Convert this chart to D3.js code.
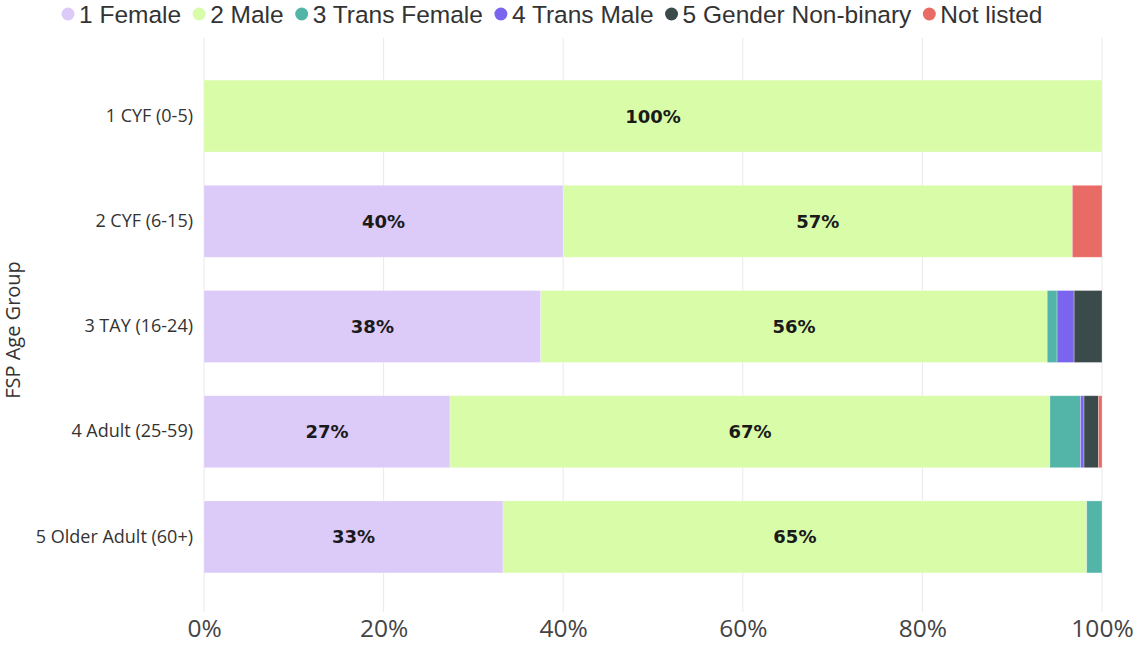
<!DOCTYPE html>
<html>
<head>
<meta charset="utf-8">
<script src="https://cdn.jsdelivr.net/npm/d3@7"></script>
<style>
    body { margin: 0; background: #fff; }
    svg text { font-family: "Open Sans", "Noto Sans", sans-serif; }
</style>
</head>
<body>
<div id="chart"></div>
<script>
// age groups and gender shares (percent of each row)
const groups = ["1 CYF (0-5)", "2 CYF (6-15)", "3 TAY (16-24)", "4 Adult (25-59)", "5 Older Adult (60+)"];
const genders = ["1 Female", "2 Male", "3 Trans Female", "4 Trans Male", "5 Gender Non-binary", "Not listed"];
const female = [0, 40.0, 37.5, 27.4, 33.3];
const male = [100, 56.7, 56.4, 66.8, 65.0];
const transFemale = [0, 0, 1.1, 3.4, 1.7];
const transMale = [0, 0, 1.9, 0.4, 0];
const nonBinary = [0, 0, 3.1, 1.6, 0];
const notListed = [0, 3.3, 0, 0.4, 0];
const xTicks = [0, 20, 40, 60, 80, 100];
const colors = ["#dccaf8", "#d9fca9", "#53b5a8", "#7b65ef", "#3b4a4a", "#e86b66"];

const width = 1142, height = 650;
const margin = {top: 38, right: 40, bottom: 35, left: 204};

const series = [female, male, transFemale, transMale, nonBinary, notListed];
let rows = groups.map(function (g, i) {
    let r = {group: g};
    genders.forEach(function (k, j) { r[k] = series[j][i]; });
    return r;
});
let stacked = d3.stack().keys(genders)(rows);

const svg = d3.select("#chart").append("svg")
    .attr("width", width).attr("height", height);

const x = d3.scaleLinear().domain([0, 100]).range([margin.left, width - 40]);
const y = d3.scaleBand().domain(groups)
    .range([margin.top, height - margin.bottom])
    .paddingInner(0.316).paddingOuter(0.4);

// gridlines
svg.append("g").selectAll("line").data(xTicks).join("line")
    .attr("x1", d => x(d)).attr("x2", d => x(d))
    .attr("y1", margin.top).attr("y2", 612)
    .attr("stroke", "#e9e9e9").attr("stroke-width", 1);

// bars
let layer = svg.append("g").selectAll("g").data(stacked).join("g")
    .attr("fill", (d, i) => colors[i]);

layer.selectAll("rect").data(d => d.filter(s => s[1] - s[0] > 0)).join("rect")
    .attr("x", d => x(d[0]))
    .attr("width", d => x(d[1]) - x(d[0]))
    .attr("y", d => y(d.data.group))
    .attr("height", y.bandwidth())
    .attr("stroke", "rgba(255,255,255,0.35)")
    .attr("stroke-width", 0.8);

// data labels for the big segments
layer.selectAll("text").data(d => d.filter(s => s[1] - s[0] >= 10)).join("text")
    .attr("x", d => (x(d[0]) + x(d[1])) / 2)
    .attr("y", d => y(d.data.group) + y.bandwidth() / 2)
    .attr("dy", "0.36em")
    .attr("text-anchor", "middle")
    .attr("fill", "#1a1a1a")
    .style("font-family", "'DejaVu Sans', sans-serif")
    .style("font-weight", "bold")
    .style("font-size", "18px")
    .text(d => Math.round(d[1] - d[0]) + "%");

// y axis labels
let yAxis = svg.append("g").attr("transform", "translate(" + (margin.left - 11) + ",0)")
    .call(d3.axisLeft(y).tickSize(0).tickPadding(0));
yAxis.select(".domain").remove();
yAxis.selectAll("text")
    .style("font-family", "'Open Sans', sans-serif")
    .style("font-size", "18px").attr("fill", "#333");

// x axis labels
let xAxis = svg.append("g").attr("transform", "translate(0,620)")
    .call(d3.axisBottom(x).tickValues(xTicks).tickFormat(d => d + "%").tickSize(0).tickPadding(0));
xAxis.select(".domain").remove();
xAxis.selectAll("text")
    .style("font-family", "'Open Sans', sans-serif")
    .style("font-size", "24.5px").attr("fill", "#444");

// y axis title
svg.append("text")
    .attr("transform", "translate(20,330) rotate(-90)")
    .attr("text-anchor", "middle")
    .style("font-size", "20px").attr("fill", "#333")
    .text("FSP Age Group");

// legend
let lx = 68;
genders.forEach(function (g, i) {
    svg.append("circle").attr("cx", lx).attr("cy", 14).attr("r", 6.5).attr("fill", colors[i]);
    let t = svg.append("text").attr("x", lx + 11).attr("y", 22.5)
        .style("font-family", "'Liberation Sans', Arial, sans-serif")
        .style("font-size", "24.5px").attr("fill", "#333").text(g);
    lx += 11 + t.node().getComputedTextLength() + 18;
});
</script>
</body>
</html>
